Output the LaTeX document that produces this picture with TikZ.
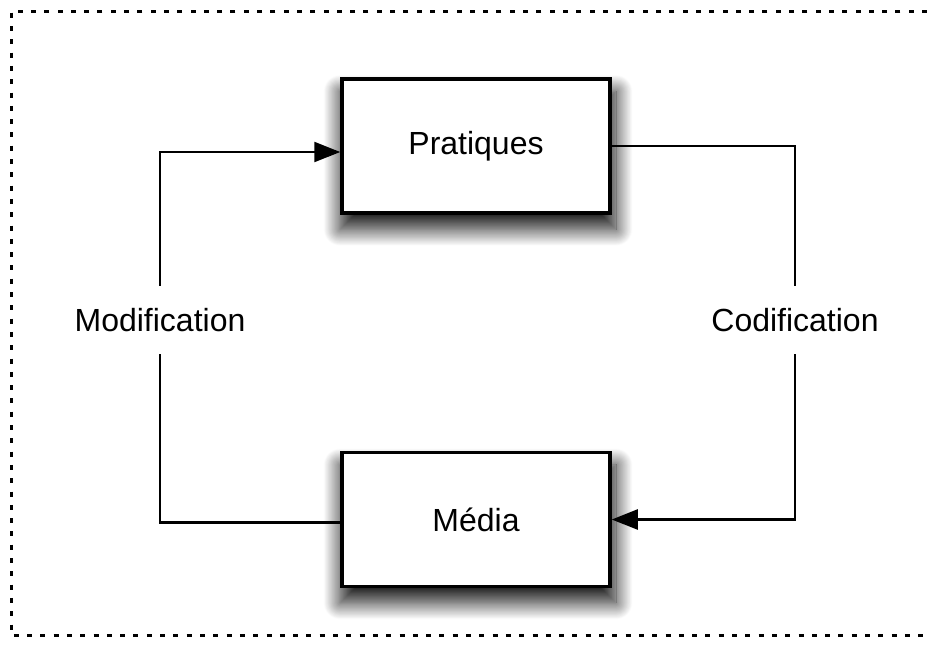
\documentclass[tikz,border=0pt]{standalone}
\usepackage{fontspec}
\setmainfont{Liberation Sans}
\usetikzlibrary{arrows.meta,shadows.blur}
\begin{document}
\begin{tikzpicture}[x=1pt,y=-1pt,
  stage/.style={draw=black,line width=3.5pt,fill=white,minimum width=268pt,minimum height=134pt,
    inner sep=0pt,font=\fontsize{32}{38}\selectfont,
    blur shadow={shadow xshift=2pt,shadow yshift=-14pt,shadow blur radius=16pt,shadow opacity=90,shadow blur steps=24,shadow scale=1.03}},
  lbl/.style={font=\fontsize{32}{38}\selectfont,minimum height=68pt,inner sep=0pt},
  link/.style={line width=2.4pt},
  tip/.style={-{Triangle[length=26pt,width=20pt]}}]
  \useasboundingbox (0,0) rectangle (927,646);
  % dotted frame, open on the right
  \draw[line width=3pt,dash pattern=on 5pt off 8.3pt] (927,11) -- (11,11) -- (11,635) -- (927,635);
  % the two stages
  \node[stage] (P) at (476,146) {\raisebox{-3pt}{Pratiques}};
  \node[stage] (M) at (476,519.5) {\raisebox{-2pt}{Média}};
  % side labels
  \node[lbl] (mod) at (160,320) {Modification};
  \node[lbl] (cod) at (795,320) {Codification};
  % Codification: Pratiques -> Média
  \draw[link] (P.east) -| (cod.north);
  \draw[link,tip] (cod.south) |- (M.east);
  % Modification: Média -> Pratiques
  \draw[link] ([yshift=-3pt]M.west) -| (mod.south);
  \draw[link,tip] (mod.north) |- ([yshift=-6pt]P.west);
\end{tikzpicture}
\end{document}
